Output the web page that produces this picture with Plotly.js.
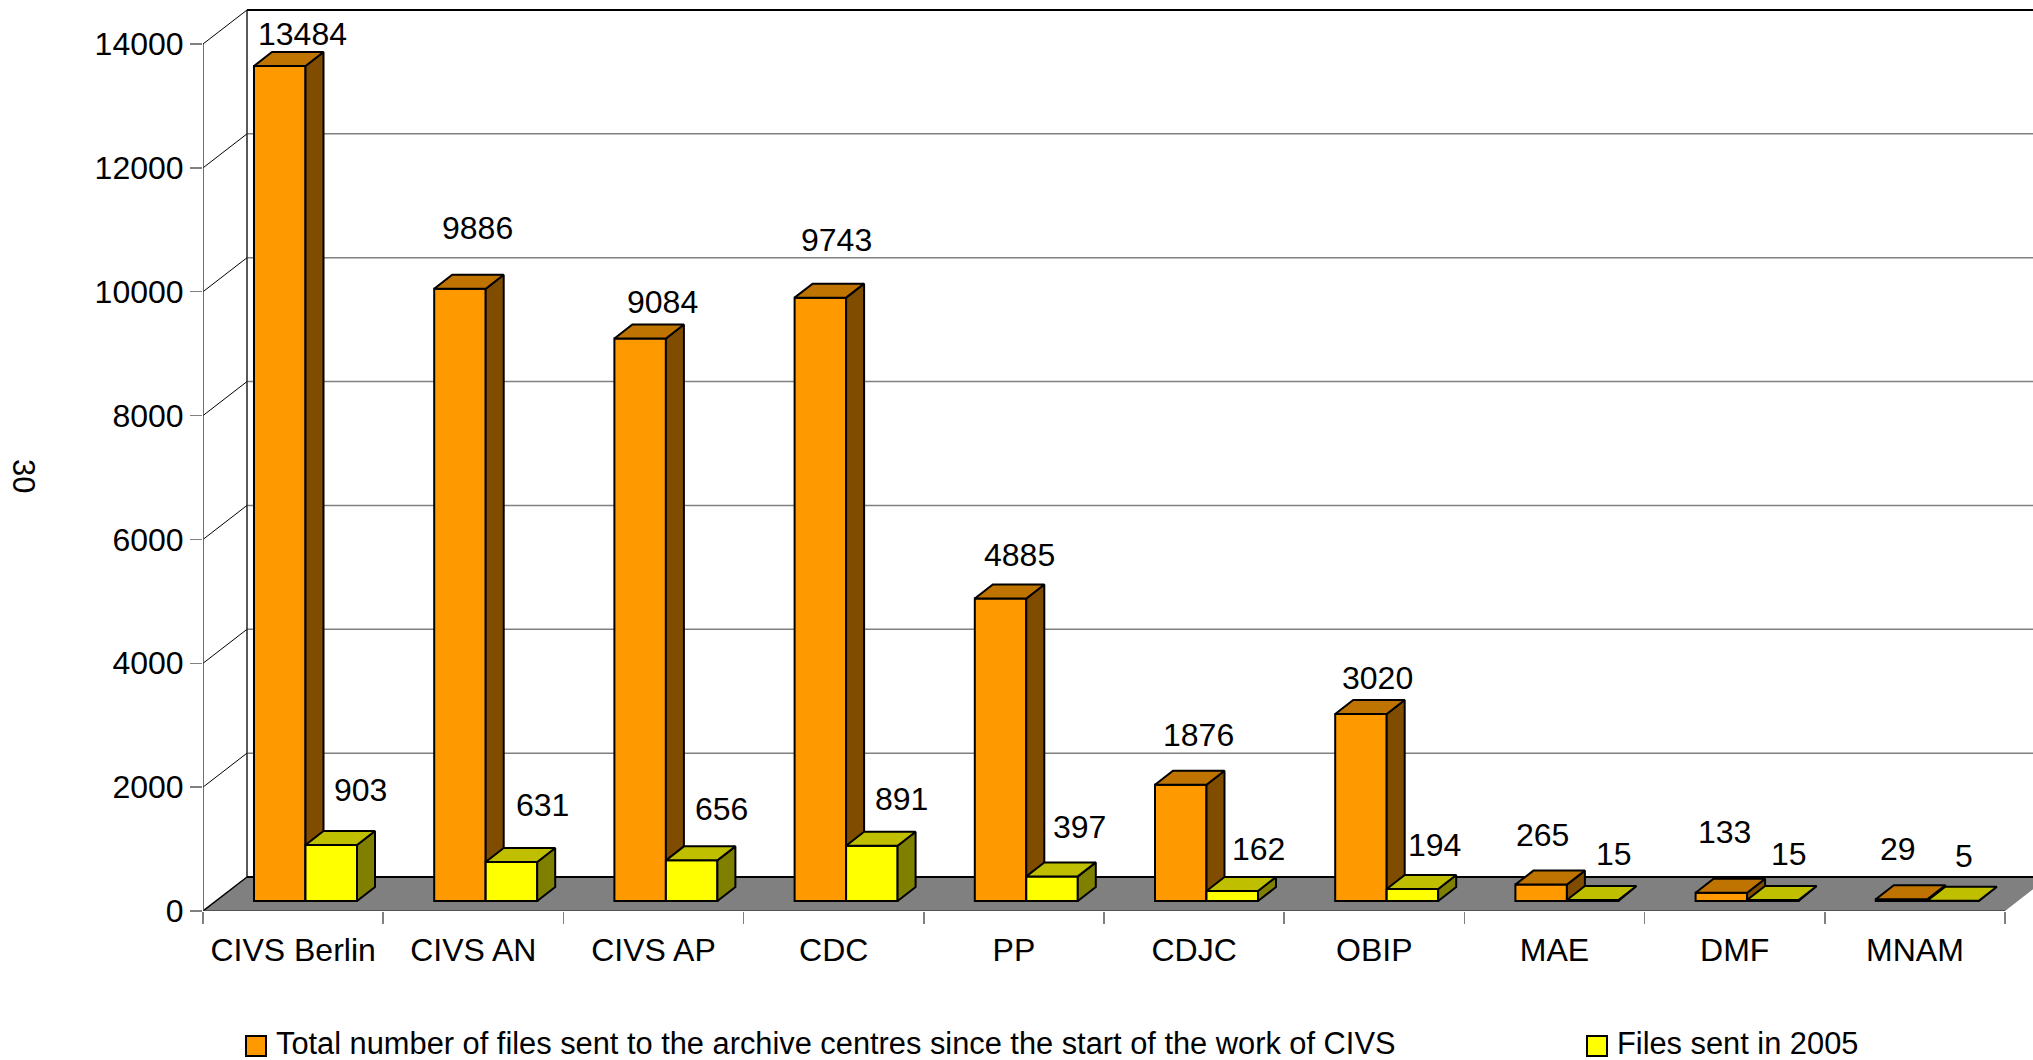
<!DOCTYPE html>
<html><head><meta charset="utf-8">
<script src="https://cdn.plot.ly/plotly-3.0.1.min.js"></script>
<style>html,body{margin:0;padding:0;background:#fff;overflow:hidden}#c{width:2033px;height:1060px}</style>
</head><body><div id="c"></div>
<script>
const categories = ['CIVS Berlin','CIVS AN','CIVS AP','CDC','PP','CDJC','OBIP','MAE','DMF','MNAM'];
const totalFiles = [13484,9886,9084,9743,4885,1876,3020,265,133,29];
const files2005 = [903,631,656,891,397,162,194,15,15,5];
const yTicks = [0,2000,4000,6000,8000,10000,12000,14000];
const totalName = 'Total number of files sent to the archive centres since the start of the work of CIVS';
const recentName = 'Files sent in 2005';
// hand-placed data label offsets in the reference (pixels from the bar's top centre)
const totalLabelDx = [23,18,22,16,19,18,17,1,3,-4];
const totalLabelRise = [32,61,36,58,43,50,36,50,61,50];
const recentLabelDx = [29,31,30,30,27,26,22,21,16,11];
const recentLabelRise = [55,57,51,47,49,42,44,46,46,45];

const W=2033,H=1060,L=203,B=911,catPx=180.2,yPx=(B-44)/14000;
const FS=32,FONT='"Liberation Sans", Arial, sans-serif';
const xu=p=>p/catPx, yu=p=>p/yPx;
const xMax=xu(W-L), yMax=yu(B);
const wallX=xu(44), wallY=yu(34);
const barBase=yu(10), barW=xu(51.5), depthX=xu(18), depthY=yu(14);
const cOff1=xu(76.75), cOff2=xu(128.25);

function faces(vals,off){
  const top={x:[],y:[]}, side={x:[],y:[]};
  vals.forEach((v,i)=>{
    const l=i+off-barW/2, r=i+off+barW/2, t=barBase+v;
    top.x.push(l,r,r+depthX,l+depthX,l,null);
    top.y.push(t,t,t+depthY,t+depthY,t,null);
    side.x.push(r,r+depthX,r+depthX,r,r,null);
    side.y.push(barBase,barBase+depthY,t+depthY,t,barBase,null);
  });
  return {top,side};
}
const poly=(f,col,xa,ya)=>({type:'scatter',mode:'lines',x:f.x,y:f.y,xaxis:xa,yaxis:ya,fill:'toself',fillcolor:col,
  line:{color:'#000',width:2},hoverinfo:'skip',showlegend:false});
const bar=(name,vals,off,col,xa,ya)=>({type:'bar',name,x:vals.map((_,i)=>i+off),y:vals,base:vals.map(()=>barBase),width:barW,
  xaxis:xa,yaxis:ya,marker:{color:col,line:{color:'#000',width:2}},showlegend:false});
const f1=faces(totalFiles,cOff1), f2=faces(files2005,cOff2);
const traces=[
  bar(totalName,totalFiles,cOff1,'#FF9900','x','y'),
  poly(f1.side,'#804D00','x','y'),
  poly(f1.top,'#BF7300','x','y'),
  bar(recentName,files2005,cOff2,'#FFFF00','x2','y2'),
  poly(f2.side,'#808000','x2','y2'),
  poly(f2.top,'#BFBF00','x2','y2')
];
const n=categories.length, shapes=[];
const seg=(x0,y0,x1,y1,color,width)=>shapes.push({type:'line',xref:'x',yref:'y',x0,y0,x1,y1,layer:'below',line:{color,width}});
// floor
shapes.push({type:'path',xref:'x',yref:'y',layer:'below',fillcolor:'#808080',line:{width:0},
  path:`M0,0L${wallX},${wallY}L${n+wallX},${wallY}L${n},0Z`});
// wall grid
yTicks.forEach(v=>{
  if(v>0 && v<14000) seg(wallX,v+wallY,xMax,v+wallY,'#808080',1.5);
  if(v>0) seg(0,v,wallX,v+wallY,'#000',1);
});
seg(wallX,wallY,wallX,14000+wallY,'#222',1.5);
seg(wallX,14000+wallY,xMax,14000+wallY,'#000',2);
seg(wallX,wallY,xMax,wallY,'#000',2);
seg(0,0,wallX,wallY,'#000',1.5);
seg(0,0,n,0,'#404040',1.5);
seg(0,0,0,14000,'#404040',1.5);
// legend keys
const px=p=>(p-L)/(W-L), py=p=>(B-p)/B;
const key=(x0,col)=>shapes.push({type:'rect',xref:'paper',yref:'paper',x0:px(x0),x1:px(x0+20),y0:py(1036),y1:py(1056),fillcolor:col,line:{color:'#000',width:2}});
key(246,'#FF9900'); key(1587,'#FFFF00');

const lab=(text,x,y,xshift,yshift)=>({text:String(text),x,y,xref:'x',yref:'y',xshift,yshift,showarrow:false,xanchor:'center',yanchor:'middle',font:{family:FONT,size:FS,color:'#000'}});
const anns=[];
totalFiles.forEach((v,i)=>anns.push(lab(v,i+cOff1,barBase+v,totalLabelDx[i],totalLabelRise[i])));
files2005.forEach((v,i)=>anns.push(lab(v,i+cOff2,barBase+v,recentLabelDx[i],recentLabelRise[i])));
const paperText=(text,x,y,anchor,extra)=>Object.assign({text,x:px(x),y:py(y),xref:'paper',yref:'paper',showarrow:false,xanchor:anchor,yanchor:'middle',font:{family:FONT,size:30.8,color:'#000'}},extra||{});
anns.push(paperText(totalName,274,1043,'left'));
anns.push(paperText(recentName,1615,1043,'left'));
anns.push(paperText('30',24,476,'center',{textangle:90}));

const layout={width:W,height:H,margin:{l:L,r:0,t:0,b:H-B,pad:0},paper_bgcolor:'#fff',plot_bgcolor:'rgba(0,0,0,0)',showlegend:false,barmode:'overlay',
  font:{family:FONT,size:FS,color:'#000'},shapes,annotations:anns,
  xaxis:{range:[0,xMax],fixedrange:true,showgrid:false,zeroline:false,showline:false,
    tickmode:'array',tickvals:categories.map((_,i)=>i+0.5),ticktext:categories,ticks:'outside',ticklen:11,tickcolor:'rgba(0,0,0,0)',
    tickangle:0,automargin:false,tickfont:{family:FONT,size:FS,color:'#000'},
    minor:{tickmode:'array',tickvals:Array.from({length:n+1},(_,i)=>i),ticks:'outside',ticklen:12,tickcolor:'#808080',tickwidth:1.5,showgrid:false}},
  yaxis:{range:[0,yMax],fixedrange:true,showgrid:false,zeroline:false,showline:false,
    tickmode:'array',tickvals:yTicks,ticktext:yTicks.map(String),ticks:'outside',ticklen:12,tickcolor:'#808080',tickwidth:1.5,
    automargin:false,tickfont:{family:FONT,size:FS,color:'#000'}},
  xaxis2:{range:[0,xMax],overlaying:'x',anchor:'y2',visible:false,fixedrange:true},
  yaxis2:{range:[0,yMax],overlaying:'y',anchor:'x2',visible:false,fixedrange:true}
};
Plotly.newPlot('c',traces,layout,{displayModeBar:false,staticPlot:true});
</script></body></html>
